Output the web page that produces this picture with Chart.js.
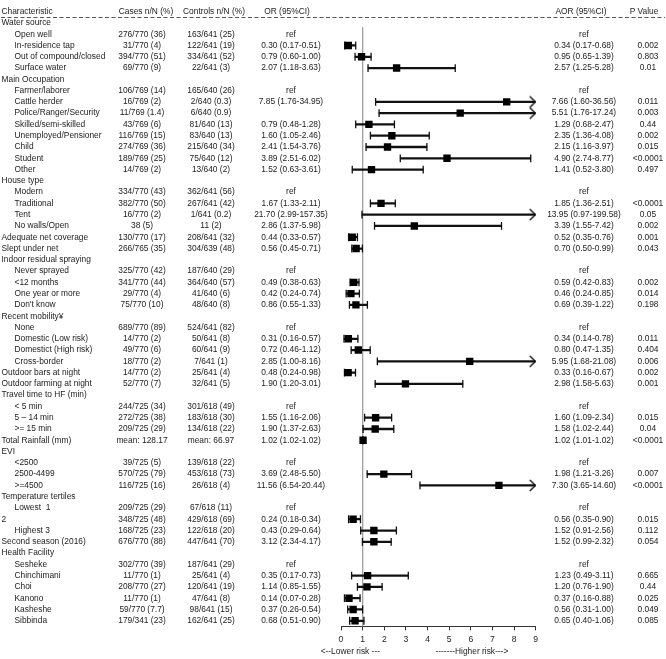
<!DOCTYPE html>
<html>
<head>
<meta charset="utf-8">
<script src="https://cdn.jsdelivr.net/npm/chart.js"></script>
<style>
  body { margin: 0; background: #fff; }
  canvas { display: block; }
</style>
</head>
<body>
<canvas id="forestChart" width="666" height="659"></canvas>
<script>
// table rows, top to bottom
const rowLabels = [
  "Water source", "Open well", "In-residence tap", "Out of compound/closed", "Surface water",
  "Main Occupation", "Farmer/laborer", "Cattle herder", "Police/Ranger/Security", "Skilled/semi-skilled",
  "Unemployed/Pensioner", "Child", "Student", "Other",
  "House type", "Modern", "Traditional", "Tent", "No walls/Open",
  "Adequate net coverage", "Slept under net",
  "Indoor residual spraying", "Never sprayed", "<12 months", "One year or more", "Don't know",
  "Recent mobility¥", "None", "Domestic (Low risk)", "Domestict (High risk)", "Cross-border",
  "Outdoor bars at night", "Outdoor farming at night",
  "Travel time to HF (min)", "< 5 min", "5 \u2013 14 min", ">= 15 min",
  "Total Rainfall (mm)",
  "EVI", "<2500", "2500-4499", ">=4500",
  "Temperature tertiles", "Lowest  1", "2", "Highest 3",
  "Second season (2016)",
  "Health Facility", "Sesheke", "Chinchimani", "Choi", "Kanono", "Kasheshe", "Sibbinda"
];
// 0 = group / main row, 1 = sub item
const rowLevel = [
  0, 1, 1, 1, 1,
  0, 1, 1, 1, 1, 1, 1, 1, 1,
  0, 1, 1, 1, 1,
  0, 0,
  0, 1, 1, 1, 1,
  0, 1, 1, 1, 1,
  0, 0,
  0, 1, 1, 1,
  0,
  0, 1, 1, 1,
  0, 1, 0, 1,
  0,
  0, 1, 1, 1, 1, 1, 1
];
const casesCol = [
  "", "276/770 (36)", "31/770 (4)", "394/770 (51)", "69/770 (9)",
  "", "106/769 (14)", "16/769 (2)", "11/769 (1.4)", "43/769 (6)", "116/769 (15)", "274/769 (36)", "189/769 (25)", "14/769 (2)",
  "", "334/770 (43)", "382/770 (50)", "16/770 (2)", "38 (5)",
  "130/770 (17)", "266/765 (35)",
  "", "325/770 (42)", "341/770 (44)", "29/770 (4)", "75/770 (10)",
  "", "689/770 (89)", "14/770 (2)", "49/770 (6)", "18/770 (2)",
  "14/770 (2)", "52/770 (7)",
  "", "244/725 (34)", "272/725 (38)", "209/725 (29)",
  "mean: 128.17",
  "", "39/725 (5)", "570/725 (79)", "116/725 (16)",
  "", "209/725 (29)", "348/725 (48)", "168/725 (23)",
  "676/770 (88)",
  "", "302/770 (39)", "11/770 (1)", "208/770 (27)", "11/770 (1)", "59/770 (7.7)", "179/341 (23)"
];
const controlsCol = [
  "", "163/641 (25)", "122/641 (19)", "334/641 (52)", "22/641 (3)",
  "", "165/640 (26)", "2/640 (0.3)", "6/640 (0.9)", "81/640 (13)", "83/640 (13)", "215/640 (34)", "75/640 (12)", "13/640 (2)",
  "", "362/641 (56)", "267/641 (42)", "1/641 (0.2)", "11 (2)",
  "208/641 (32)", "304/639 (48)",
  "", "187/640 (29)", "364/640 (57)", "41/640 (6)", "48/640 (8)",
  "", "524/641 (82)", "50/641 (8)", "60/641 (9)", "7/641 (1)",
  "25/641 (4)", "32/641 (5)",
  "", "301/618 (49)", "183/618 (30)", "134/618 (22)",
  "mean: 66.97",
  "", "139/618 (22)", "453/618 (73)", "26/618 (4)",
  "", "67/618 (11)", "429/618 (69)", "122/618 (20)",
  "447/641 (70)",
  "", "187/641 (29)", "25/641 (4)", "120/641 (19)", "47/641 (8)", "98/641 (15)", "162/641 (25)"
];
const orCol = [
  "", "ref", "0.30 (0.17-0.51)", "0.79 (0.60-1.00)", "2.07 (1.18-3.63)",
  "", "ref", "7.85 (1.76-34.95)", "", "0.79 (0.48-1.28)", "1.60 (1.05-2.46)", "2.41 (1.54-3.76)", "3.89 (2.51-6.02)", "1.52 (0.63-3.61)",
  "", "ref", "1.67 (1.33-2.11)", "21.70 (2.99-157.35)", "2.86 (1.37-5.98)",
  "0.44 (0.33-0.57)", "0.56 (0.45-0.71)",
  "", "ref", "0.49 (0.38-0.63)", "0.42 (0.24-0.74)", "0.86 (0.55-1.33)",
  "", "ref", "0.31 (0.16-0.57)", "0.72 (0.46-1.12)", "2.85 (1.00-8.16)",
  "0.48 (0.24-0.98)", "1.90 (1.20-3.01)",
  "", "ref", "1.55 (1.16-2.06)", "1.90 (1.37-2.63)",
  "1.02 (1.02-1.02)",
  "", "ref", "3.69 (2.48-5.50)", "11.56 (6.54-20.44)",
  "", "ref", "0.24 (0.18-0.34)", "0.43 (0.29-0.64)",
  "3.12 (2.34-4.17)",
  "", "ref", "0.35 (0.17-0.73)", "1.14 (0.85-1.55)", "0.14 (0.07-0.28)", "0.37 (0.26-0.54)", "0.68 (0.51-0.90)"
];
const aorCol = [
  "", "ref", "0.34 (0.17-0.68)", "0.95 (0.65-1.39)", "2.57 (1.25-5.28)",
  "", "ref", "7.66 (1.60-36.56)", "5.51 (1.76-17.24)", "1.29 (0.68-2.47)", "2.35 (1.36-4.08)", "2.15 (1.16-3.97)", "4.90 (2.74-8.77)", "1.41 (0.52-3.80)",
  "", "ref", "1.85 (1.36-2.51)", "13.95 (0.97-199.58)", "3.39 (1.55-7.42)",
  "0.52 (0.35-0.76)", "0.70 (0.50-0.99)",
  "", "ref", "0.59 (0.42-0.83)", "0.46 (0.24-0.85)", "0.69 (0.39-1.22)",
  "", "ref", "0.34 (0.14-0.78)", "0.80 (0.47-1.35)", "5.95 (1.68-21.08)",
  "0.33 (0.16-0.67)", "2.98 (1.58-5.63)",
  "", "ref", "1.60 (1.09-2.34)", "1.58 (1.02-2.44)",
  "1.02 (1.01-1.02)",
  "", "ref", "1.98 (1.21-3.26)", "7.30 (3.65-14.60)",
  "", "ref", "0.56 (0.35-0.90)", "1.52 (0.91-2.56)",
  "1.52 (0.99-2.32)",
  "", "ref", "1.23 (0.49-3.11)", "1.20 (0.76-1.90)", "0.37 (0.16-0.88)", "0.56 (0.31-1.00)", "0.65 (0.40-1.06)"
];
const pCol = [
  "", "", "0.002", "0.803", "0.01",
  "", "", "0.011", "0.003", "0.44", "0.002", "0.015", "<0.0001", "0.497",
  "", "", "<0.0001", "0.05", "0.002",
  "0.001", "0.043",
  "", "", "0.002", "0.014", "0.198",
  "", "", "0.011", "0.404", "0.006",
  "0.002", "0.001",
  "", "", "0.015", "0.04",
  "<0.0001",
  "", "", "0.007", "<0.0001",
  "", "", "0.015", "0.112",
  "0.054",
  "", "", "0.665", "0.44", "0.025", "0.049", "0.085"
];
// plotted adjusted odds ratios (null = no mark)
const aorValues = [
  null, null, 0.34, 0.95, 2.57,
  null, null, 7.66, 5.51, 1.29, 2.35, 2.15, 4.90, 1.41,
  null, null, 1.85, 13.95, 3.39,
  0.52, 0.70,
  null, null, 0.59, 0.46, 0.69,
  null, null, 0.34, 0.80, 5.95,
  0.33, 2.98,
  null, null, 1.60, 1.58,
  1.02,
  null, null, 1.98, 7.30,
  null, null, 0.56, 1.52,
  1.52,
  null, null, 1.23, 1.20, 0.37, 0.56, 0.65
];
const ciLow = [
  null, null, 0.17, 0.65, 1.25,
  null, null, 1.60, 1.76, 0.68, 1.36, 1.16, 2.74, 0.52,
  null, null, 1.36, 0.97, 1.55,
  0.35, 0.50,
  null, null, 0.42, 0.24, 0.39,
  null, null, 0.14, 0.47, 1.68,
  0.16, 1.58,
  null, null, 1.09, 1.02,
  1.01,
  null, null, 1.21, 3.65,
  null, null, 0.35, 0.91,
  0.99,
  null, null, 0.49, 0.76, 0.16, 0.31, 0.40
];
const ciHigh = [
  null, null, 0.68, 1.39, 5.28,
  null, null, 36.56, 17.24, 2.47, 4.08, 3.97, 8.77, 3.80,
  null, null, 2.51, 199.58, 7.42,
  0.76, 0.99,
  null, null, 0.83, 0.85, 1.22,
  null, null, 0.78, 1.35, 21.08,
  0.67, 5.63,
  null, null, 2.34, 2.44,
  1.02,
  null, null, 3.26, 14.60,
  null, null, 0.90, 2.56,
  2.32,
  null, null, 3.11, 1.90, 0.88, 1.00, 1.06
];
const xTickLabels = ["0", "1", "2", "3", "4", "5", "6", "7", "8", "9"];

const X_MAX = 9;
const FONT = "8.4px 'Liberation Sans', Arial, sans-serif";
const INK = "#222";

const markerData = [];
const ciData = [];
const capData = [];
const arrowData = [];
aorValues.forEach((v, i) => {
  if (v === null) return;
  const row = i + 1;
  markerData.push({ x: v, y: row });
  ciData.push({ y: row, x: [ciLow[i], Math.min(ciHigh[i], X_MAX)] });
  capData.push({ x: ciLow[i], y: row });
  if (ciHigh[i] > X_MAX) {
    arrowData.push({ x: X_MAX, y: row });
  } else {
    capData.push({ x: ciHigh[i], y: row });
  }
});

// open arrow head, tip sits at the centre of the canvas
const arrowHead = document.createElement("canvas");
arrowHead.width = 16;
arrowHead.height = 13;
(function () {
  const c = arrowHead.getContext("2d");
  c.strokeStyle = "#111";
  c.lineWidth = 1.4;
  c.beginPath();
  c.moveTo(2, 1);
  c.lineTo(7.6, 6.5);
  c.lineTo(2, 12);
  c.stroke();
})();

const tablePlugin = {
  id: "tableText",
  afterDraw(chart) {
    const ctx = chart.ctx;
    const y = chart.scales.y;
    ctx.save();
    ctx.font = FONT;
    ctx.fillStyle = INK;
    ctx.textBaseline = "middle";

    // header
    const hy = y.getPixelForValue(0);
    ctx.textAlign = "left";
    ctx.fillText("Characteristic", 1.5, hy);
    ctx.textAlign = "center";
    ctx.fillText("Cases n/N (%)", 146, hy);
    ctx.fillText("Controls n/N (%)", 214, hy);
    ctx.fillText("OR (95%CI)", 287, hy);
    ctx.fillText("AOR (95%CI)", 581, hy);
    ctx.fillText("P Value", 644, hy);

    ctx.strokeStyle = "#555";
    ctx.lineWidth = 1;
    ctx.setLineDash([4, 2.5]);
    ctx.beginPath();
    const dy = Math.round(y.getPixelForValue(0.5)) + 0.5;
    ctx.moveTo(1, dy);
    ctx.lineTo(665, dy);
    ctx.stroke();
    ctx.setLineDash([]);

    rowLabels.forEach((label, i) => {
      const py = y.getPixelForValue(i + 1);
      ctx.textAlign = "left";
      ctx.fillText(label, rowLevel[i] ? 14.5 : 1.5, py);
      ctx.textAlign = "center";
      ctx.fillText(casesCol[i], 142, py);
      ctx.fillText(controlsCol[i], 211, py);
      ctx.fillText(orCol[i], 291, py);
      ctx.fillText(aorCol[i], 584, py);
      ctx.fillText(pCol[i], 648, py);
    });

    // direction labels under the axis
    const x = chart.scales.x;
    ctx.textAlign = "center";
    ctx.fillText("<--Lower risk ---", x.getPixelForValue(0.43), 652);
    ctx.fillText("-------Higher risk--->", x.getPixelForValue(6.05), 652);
    ctx.restore();
  }
};

new Chart(document.getElementById("forestChart"), {
  type: "scatter",
  data: {
    datasets: [
      {
        label: "AOR",
        data: markerData,
        pointStyle: "rect",
        pointRadius: 5.2,
        backgroundColor: "#000",
        borderWidth: 0,
      },
      {
        label: "arrows",
        data: arrowData,
        pointStyle: arrowHead,
        pointRadius: 5,
      },
      {
        label: "caps",
        data: capData,
        pointStyle: "line",
        rotation: 90,
        pointRadius: 3.9,
        borderColor: "#111",
        borderWidth: 1.3,
      },
      {
        type: "bar",
        label: "CI",
        data: ciData,
        indexAxis: "y",
        barThickness: 1.6,
        backgroundColor: "#111",
        borderWidth: 0,
      },
      {
        type: "line",
        label: "no effect",
        data: [{ x: 1, y: 1.39 }, { x: 1, y: 54.5 }],
        borderColor: "#a0a0a0",
        borderWidth: 1,
        pointRadius: 0,
      },
    ],
  },
  options: {
    responsive: false,
    animation: false,
    events: [],
    layout: {
      padding: { left: 341, right: 130.3, top: 0, bottom: 0 },
    },
    scales: {
      x: {
        type: "linear",
        min: 0,
        max: X_MAX,
        offset: false,
        afterFit(scale) {
          scale.height = 32.6;
        },
        ticks: {
          stepSize: 1,
          padding: 4,
          color: INK,
          font: { family: "'Liberation Sans', Arial, sans-serif", size: 8.6 },
          callback: (v) => xTickLabels[v],
        },
        grid: {
          offset: false,
          drawOnChartArea: false,
          drawTicks: true,
          tickLength: 4,
          color: "#333",
        },
        border: { color: "#333", width: 1 },
      },
      y: {
        type: "linear",
        display: false,
        reverse: true,
        offset: false,
        grid: { offset: false },
        min: -0.5,
        max: 54.5,
      },
    },
    plugins: {
      legend: { display: false },
      tooltip: { enabled: false },
    },
  },
  plugins: [tablePlugin],
});
</script>
</body>
</html>
